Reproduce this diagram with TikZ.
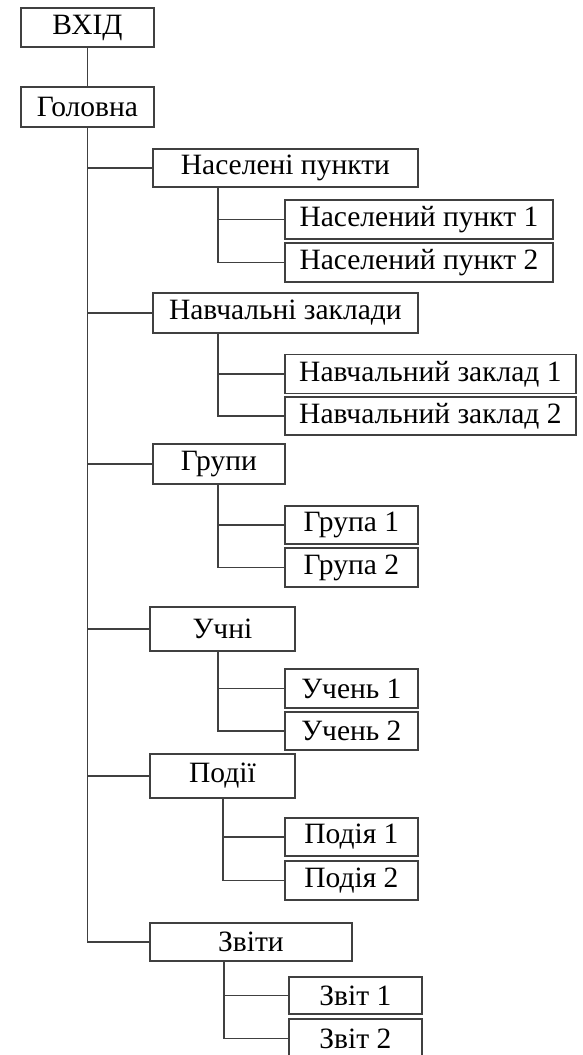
\documentclass[tikz,border=0pt]{standalone}
\usepackage{fontspec}
\setmainfont{Liberation Serif}
\begin{document}
\begin{tikzpicture}[x=1pt,y=-1pt,
  box/.style={draw=black!75, line width=1.8pt, minimum height=39, inner sep=0pt, anchor=west, font=\fontsize{29.5}{32}\selectfont},
  link/.style={draw=black!75, line width=1.8pt}]
\useasboundingbox[fill=white] (0,0) rectangle (583,1055);

\node [box, minimum width=133] (vhid) at (20,27.5) {ВХІД};
\node [box, minimum width=133, minimum height=40] (golovna) at (20,107) {Головна};

\node [box, minimum width=265, minimum height=38] (punkty) at (152,168) {Населені пункти};
\node [box, minimum width=268] (punkt1) at (284,219.5) {Населений пункт 1};
\node [box, minimum width=268] (punkt2) at (284,262.5) {Населений пункт 2};

\node [box, minimum width=265, minimum height=40] (zaklady) at (152,313) {Навчальні заклади};
\node [box, minimum width=291] (zaklad1) at (284,374) {Навчальний заклад 1};
\node [box, minimum width=291, minimum height=38] (zaklad2) at (284,416) {Навчальний заклад 2};

\node [box, minimum width=132, minimum height=40] (grupy) at (152,464) {Групи};
\node [box, minimum width=133, minimum height=38] (grupa1) at (284,525) {Група 1};
\node [box, minimum width=133] (grupa2) at (284,567.5) {Група 2};

\node [box, minimum width=145, minimum height=44] (uchni) at (149,629) {Учні};
\node [box, minimum width=133] (uchen1) at (284,688.5) {Учень 1};
\node [box, minimum width=133, minimum height=38] (uchen2) at (284,731) {Учень 2};

\node [box, minimum width=145, minimum height=44] (podii) at (149,776) {Події};
\node [box, minimum width=133, minimum height=38] (podiya1) at (284,837) {Подія 1};
\node [box, minimum width=133] (podiya2) at (284,880.5) {Подія 2};

\node [box, minimum width=202, minimum height=38] (zvity) at (149,942) {Звіти};
\node [box, minimum width=133, minimum height=37] (zvit1) at (288,995.5) {Звіт 1};
\node [box, minimum width=133] (zvit2) at (288,1038.5) {Звіт 2};

\draw [link] (vhid) -- (golovna);
\foreach \n in {punkty,zaklady,grupy,uchni,podii,zvity}
  \draw [link] (golovna.south) |- (\n.west);

\draw [link] ([xshift=66]punkty.south west) |- (punkt1.west);
\draw [link] ([xshift=66]punkty.south west) |- (punkt2.west);
\draw [link] ([xshift=66]zaklady.south west) |- (zaklad1.west);
\draw [link] ([xshift=66]zaklady.south west) |- (zaklad2.west);
\draw [link] ([xshift=66]grupy.south west) |- (grupa1.west);
\draw [link] ([xshift=66]grupy.south west) |- (grupa2.west);
\draw [link] ([xshift=69]uchni.south west) |- (uchen1.west);
\draw [link] ([xshift=69]uchni.south west) |- (uchen2.west);
\draw [link] ([xshift=74]podii.south west) |- (podiya1.west);
\draw [link] ([xshift=74]podii.south west) |- (podiya2.west);
\draw [link] ([xshift=75]zvity.south west) |- (zvit1.west);
\draw [link] ([xshift=75]zvity.south west) |- (zvit2.west);
\end{tikzpicture}
\end{document}
